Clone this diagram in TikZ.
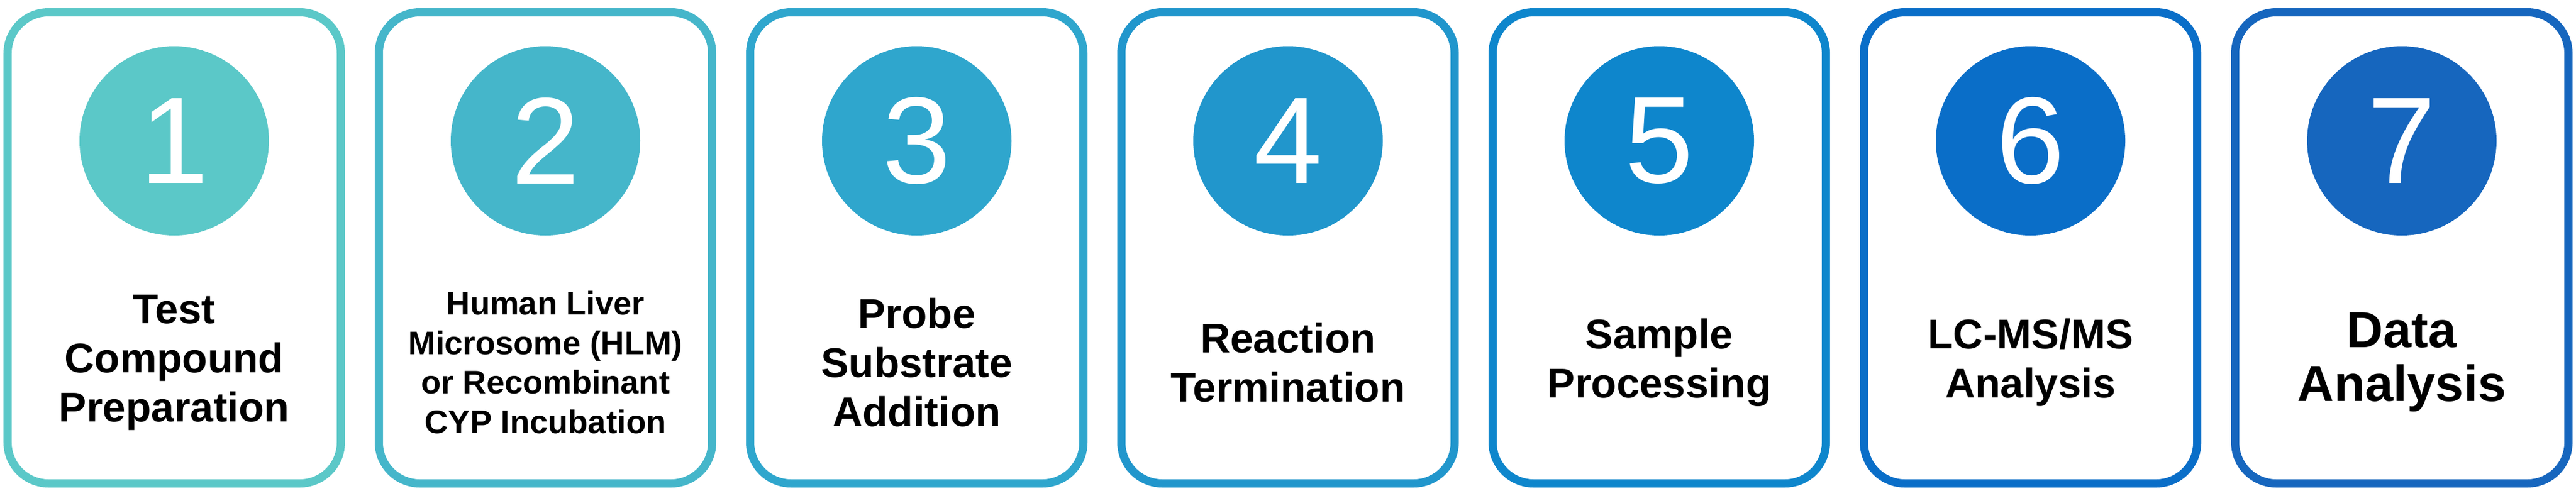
\documentclass[tikz,border=0pt]{standalone}
\usepackage{fontspec}
\setmainfont{Liberation Sans}
\usetikzlibrary{positioning}
\definecolor{c1}{HTML}{5BC8C8}
\definecolor{c2}{HTML}{45B6CA}
\definecolor{c3}{HTML}{2FA6CD}
\definecolor{c4}{HTML}{2196CC}
\definecolor{c5}{HTML}{0E86CC}
\definecolor{c6}{HTML}{0A6EC8}
\definecolor{c7}{HTML}{1666BE}
\begin{document}
\begin{tikzpicture}[
   stepcard/.style = {rectangle, draw=#1, line width=1.4mm, rounded corners=7mm,
                      minimum width=57mm, minimum height=80.6mm, fill=white},
   numdisc/.style  = {circle, fill=#1, minimum size=32.4mm, inner sep=0pt,
                      text=white, font=\fontsize{60}{60}\selectfont},
   caption/.style  = {align=center, font=\bfseries\fontsize{20.2}{23.9}\selectfont},
   smallcap/.style = {align=center, font=\bfseries\fontsize{15.9}{19.3}\selectfont},
   bigcap/.style   = {align=center, font=\bfseries\fontsize{24.7}{26.2}\selectfont}
                    ]
\useasboundingbox (0,0) rectangle (44.06,8.39);
\foreach \i/\sty/\txt in {1/caption/{Test\\Compound\\Preparation},
                          2/smallcap/{Human Liver\\Microsome (HLM)\\or Recombinant\\CYP Incubation},
                          3/caption/{Probe\\Substrate\\Addition},
                          4/caption/{Reaction\\Termination},
                          5/caption/{Sample\\Processing},
                          6/caption/{LC-MS/MS\\Analysis},
                          7/bigcap/{Data\\Analysis}}
{
  \node (box\i) [stepcard=c\i] at ({0.06+6.35*(\i-1)+2.92},4.15) {};
  \node (circ\i)[numdisc=c\i] at ({0.06+6.35*(\i-1)+2.92},5.98) {\i};
  \node (txt\i) [\sty] at ({0.06+6.35*(\i-1)+2.92},2.19) {\txt};
}
\end{tikzpicture}
\end{document}
